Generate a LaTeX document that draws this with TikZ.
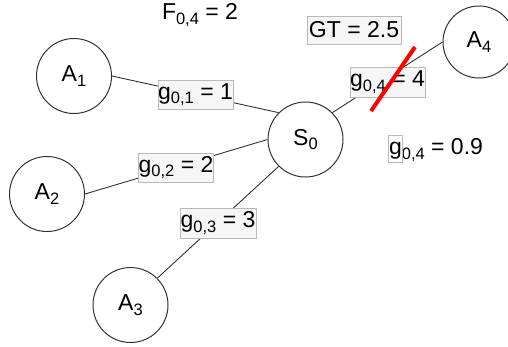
\documentclass[tikz,border=0pt]{standalone}
\usepackage{fontspec}
\setmainfont{Liberation Sans}
\newcommand\lsub[1]{\raisebox{-0.2em}{\fontsize{16.5}{16.5}\selectfont #1}}
\begin{document}
\begin{tikzpicture}[x=1pt,y=-1pt,
  circ/.style={circle,draw=black!80,line width=1pt,minimum size=75pt,inner sep=0pt,font=\fontsize{23}{26}\selectfont},
  lbl/.style={draw=gray!55,fill=gray!7,line width=0.6pt,inner sep=0pt,font=\fontsize{23}{26}\selectfont},
  plain/.style={inner sep=0pt,font=\fontsize{23}{26}\selectfont},
  edge/.style={draw=black!80,line width=0.9pt},
  cross/.style={draw=red,line width=4pt}]
\useasboundingbox (0,0) rectangle (508,346);
\node[circ] (a1) at (74,76) {A\lsub{1}};
\node[circ] (a2) at (47,194) {A\lsub{2}};
\node[circ] (a3) at (130.5,305) {A\lsub{3}};
\node[circ] (s0) at (305.5,139.5) {S\lsub{0}};
\node[circ,minimum size=72pt] (a4) at (479,42) {A\lsub{4}};
\draw[edge] (a1.east) -- (s0.135);
\draw[edge] (a2.east) -- (s0.west);
\draw[edge] (a3.45) -- (s0.225);
\draw[edge] (s0.45) -- (a4.west);
\node[lbl,minimum width=75pt,minimum height=29pt] (l1) at (195.5,94.5) {g\lsub{0,1} = 1};
\node[lbl,minimum width=74pt,minimum height=29pt] (l2) at (176,167.5) {g\lsub{0,2} = 2};
\node[lbl,minimum width=76pt,minimum height=30pt] (l3) at (218,223) {g\lsub{0,3} = 3};
\node[lbl,minimum width=75pt,minimum height=30pt] (l4) at (387.5,82) {g\lsub{0,4} = 4};
\node[lbl,minimum width=94pt,minimum height=28pt] (gt) at (354,30) {GT = 2.5};
\node[plain] (f) at (200,15) {F\lsub{0,4} = 2};
\node[plain] (g9) at (436,150) {g\lsub{0,4} = 0.9};
\draw[draw=gray!55,line width=0.6pt] (388,135) rectangle (402,162);
\coordinate (r1) at (415,47);
\coordinate (r2) at (371,111);
\draw[cross] (r1) -- (r2);
\end{tikzpicture}
\end{document}
